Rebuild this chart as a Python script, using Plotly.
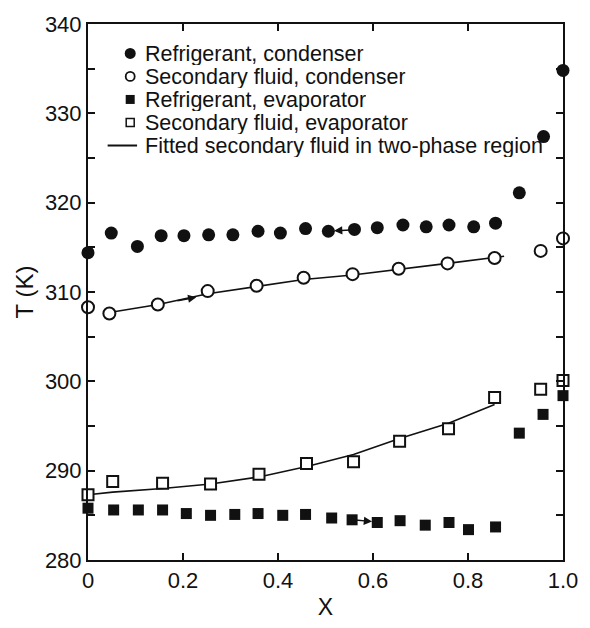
import plotly.graph_objects as go

# ---------------- data ----------------
X_ref_cond = [0.0, 0.049, 0.104, 0.154, 0.202, 0.254, 0.305, 0.358, 0.405, 0.458, 0.506,
              0.561, 0.609, 0.663, 0.712, 0.760, 0.812, 0.858, 0.908, 0.959, 1.0]
T_ref_cond = [314.4, 316.6, 315.1, 316.3, 316.3, 316.4, 316.4, 316.8, 316.6, 317.1, 316.8,
              317.0, 317.2, 317.5, 317.3, 317.5, 317.3, 317.7, 321.1, 327.4, 334.8]

X_sec_cond = [0.0, 0.045, 0.147, 0.252, 0.355, 0.454, 0.557, 0.654, 0.757, 0.856, 0.953, 1.0]
T_sec_cond = [308.3, 307.6, 308.6, 310.1, 310.7, 311.6, 312.0, 312.6, 313.2, 313.8, 314.6, 316.0]

X_ref_evap = [0.0, 0.054, 0.106, 0.157, 0.207, 0.258, 0.309, 0.358, 0.410, 0.458, 0.513,
              0.556, 0.609, 0.657, 0.710, 0.760, 0.801, 0.858, 0.908, 0.958, 1.0]
T_ref_evap = [285.8, 285.6, 285.6, 285.6, 285.2, 285.0, 285.1, 285.2, 285.0, 285.1, 284.7,
              284.5, 284.2, 284.4, 283.9, 284.2, 283.4, 283.7, 294.2, 296.3, 298.4]

X_sec_evap = [0.0, 0.052, 0.157, 0.258, 0.360, 0.460, 0.559, 0.656, 0.759, 0.856, 0.953, 1.0]
T_sec_evap = [287.3, 288.8, 288.6, 288.5, 289.6, 290.8, 291.0, 293.3, 294.7, 298.2, 299.1, 300.1]

X_fit_cond = [0.045, 0.148, 0.252, 0.355, 0.454, 0.557, 0.654, 0.757, 0.876]
T_fit_cond = [307.7, 308.6, 309.8, 310.6, 311.4, 311.9, 312.5, 313.2, 314.0]

X_fit_evap = [0.0, 0.052, 0.157, 0.258, 0.360, 0.410, 0.463, 0.559, 0.656, 0.759, 0.856]
T_fit_evap = [287.3, 287.6, 288.0, 288.5, 289.3, 289.9, 290.5, 291.8, 293.6, 295.3, 297.4]

# flow-direction arrows: (tail x, tail T, head x, head T)
flow_arrows = [
    (0.185, 309.0, 0.228, 309.4),
    (0.556, 316.95, 0.518, 316.85),
    (0.560, 284.5, 0.598, 284.3),
]

x_tickvals = [0, 0.2, 0.4, 0.6, 0.8, 1.0]
x_ticktext = ["0", "0.2", "0.4", "0.6", "0.8", "1.0"]

legend_labels = ["Refrigerant, condenser", "Secondary fluid, condenser",
                 "Refrigerant, evaporator", "Secondary fluid, evaporator",
                 "Fitted secondary fluid in two-phase region"]

# ---------------- layout geometry ----------------
W, H = 590, 628
ML, MR, MT, MB = 88, 18, 16, 65
PW, PH = W - ML - MR, H - MT - MB
FONT = "Liberation Sans, Arial, Helvetica, sans-serif"
BLACK = "#111111"

def px2paper(px, py):
    return (px - ML) / PW, 1 - (py - MT) / PH

fig = go.Figure()

fig.add_trace(go.Scatter(x=X_fit_cond, y=T_fit_cond, mode="lines",
                         line=dict(color=BLACK, width=1.6), showlegend=False, cliponaxis=False))
fig.add_trace(go.Scatter(x=X_fit_evap, y=T_fit_evap, mode="lines",
                         line=dict(color=BLACK, width=1.6), showlegend=False, cliponaxis=False))

fig.add_trace(go.Scatter(x=X_ref_cond, y=T_ref_cond, mode="markers", showlegend=False, cliponaxis=False,
                         marker=dict(symbol="circle", size=13, color=BLACK, line=dict(width=0))))
fig.add_trace(go.Scatter(x=X_sec_cond, y=T_sec_cond, mode="markers", showlegend=False, cliponaxis=False,
                         marker=dict(symbol="circle", size=12, color="white", line=dict(width=2, color=BLACK))))
fig.add_trace(go.Scatter(x=X_ref_evap, y=T_ref_evap, mode="markers", showlegend=False, cliponaxis=False,
                         marker=dict(symbol="square", size=11, color=BLACK, line=dict(width=0))))
fig.add_trace(go.Scatter(x=X_sec_evap, y=T_sec_evap, mode="markers", showlegend=False, cliponaxis=False,
                         marker=dict(symbol="square", size=11, color="white", line=dict(width=2, color=BLACK))))

annotations = []
for (tx, ty, hx, hy) in flow_arrows:
    annotations.append(dict(x=hx, y=hy, ax=tx, ay=ty, xref="x", yref="y", axref="x", ayref="y",
                            text="", showarrow=True, arrowhead=2, arrowsize=1.1,
                            arrowwidth=1.5, arrowcolor=BLACK))

# custom legend (tight line spacing like the printed original)
shapes = []
row0, drow = 46, 23.5
mx, tx0 = 131, 146
for i, lab in enumerate(legend_labels):
    py = row0 + drow * i
    xp, yp = px2paper(tx0, py)
    annotations.append(dict(x=xp, y=yp, xref="paper", yref="paper", text=lab, showarrow=False,
                            xanchor="left", yanchor="middle", height=23, borderpad=0, borderwidth=0,
                            font=dict(family=FONT, size=21.5, color=BLACK)))
    mxp, myp = px2paper(mx, py)
    common = dict(xref="paper", yref="paper", xsizemode="pixel", ysizemode="pixel",
                  xanchor=mxp, yanchor=myp)
    if i == 0:
        shapes.append(dict(type="circle", x0=-5.5, x1=5.5, y0=-5.5, y1=5.5,
                           fillcolor=BLACK, line=dict(width=0), **common))
    elif i == 1:
        shapes.append(dict(type="circle", x0=-4.5, x1=4.5, y0=-4.5, y1=4.5,
                           fillcolor="white", line=dict(width=1.8, color=BLACK), **common))
    elif i == 2:
        shapes.append(dict(type="rect", x0=-4.5, x1=4.5, y0=-4.5, y1=4.5,
                           fillcolor=BLACK, line=dict(width=0), **common))
    elif i == 3:
        shapes.append(dict(type="rect", x0=-4, x1=4, y0=-4, y1=4,
                           fillcolor="white", line=dict(width=1.5, color=BLACK), **common))
    else:
        x0p, y0p = px2paper(108, py)
        x1p, _ = px2paper(138, py)
        shapes.append(dict(type="line", xref="paper", yref="paper", x0=x0p, x1=x1p, y0=y0p, y1=y0p,
                           line=dict(width=2, color=BLACK)))

axis_common = dict(showline=True, linecolor=BLACK, linewidth=2, mirror="ticks",
                   ticks="inside", tickcolor=BLACK, tickwidth=1.5, ticklen=7,
                   showgrid=False, zeroline=False,
                   tickfont=dict(family=FONT, size=22, color=BLACK))

fig.update_layout(
    width=W, height=H,
    margin=dict(l=ML, r=MR, t=MT, b=MB, pad=0),
    paper_bgcolor="white", plot_bgcolor="white",
    showlegend=False,
    xaxis=dict(range=[0, 1], tickvals=x_tickvals, ticktext=x_ticktext,
               title=dict(text="X", font=dict(family=FONT, size=23, color=BLACK), standoff=6),
               **axis_common),
    yaxis=dict(range=[280, 340], dtick=10, tick0=280,
               minor=dict(dtick=5, ticks="inside", ticklen=7, tickcolor=BLACK, tickwidth=1.5),
               title=dict(text="T (K)", font=dict(family=FONT, size=24, color=BLACK), standoff=4),
               **axis_common),
    annotations=annotations,
    shapes=shapes,
)

fig.write_html("out.html")
